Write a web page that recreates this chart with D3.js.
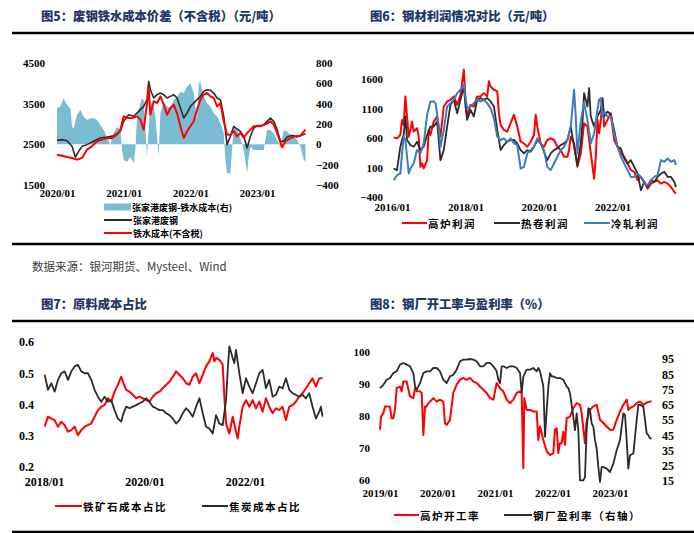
<!DOCTYPE html>
<html><head><meta charset="utf-8">
<script src="https://cdn.jsdelivr.net/npm/d3@7"></script>
<style>
body{margin:0;background:#fff;}
svg{display:block;}
.num text{font-family:"Liberation Serif","Times New Roman",serif;font-weight:bold;font-size:11px;fill:#000;}
.cjk{font-family:"Noto Sans CJK SC",sans-serif;font-weight:bold;fill:#000;}
.title{font-family:"Noto Sans CJK SC",sans-serif;font-weight:900;font-size:12.3px;fill:#1f3864;}
</style></head><body>
<svg id="c" width="694" height="533"></svg>
<script>
// ---------------- DATA ----------------
const titles = ["图5：废钢铁水成本价差（不含税）（元/吨）","图6：钢材利润情况对比（元/吨）","图7：原料成本占比","图8：钢厂开工率与盈利率（%）"];
const sourceText = "数据来源：银河期货、Mysteel、Wind";

// Fig 5
const p5XLabels = ["2020/01","2021/01","2022/01","2023/01"];
const p5LeftTicks = [1500,2500,3500,4500];
const p5RightTicks = [-400,-200,0,200,400,600,800];
const p5Names = ["张家港废钢-铁水成本(右)","张家港废钢","铁水成本(不含税)"];
const p5Scrap = [[2020.000,2598],[2020.075,2615],[2020.150,2590],[2020.225,2451],[2020.275,2188],[2020.325,2328],[2020.375,2451],[2020.450,2492],[2020.550,2574],[2020.650,2656],[2020.750,2680],[2020.850,2713],[2020.950,2820],[2021.000,3066],[2021.075,3229],[2021.150,3188],[2021.225,3311],[2021.300,3434],[2021.350,3598],[2021.375,4049],[2021.400,3844],[2021.450,3639],[2021.500,3721],[2021.550,3762],[2021.600,3721],[2021.650,3639],[2021.700,3680],[2021.750,3721],[2021.800,3639],[2021.850,3393],[2021.900,3148],[2021.950,3270],[2022.000,3434],[2022.050,3516],[2022.100,3598],[2022.150,3680],[2022.200,3803],[2022.250,3844],[2022.300,3828],[2022.350,3762],[2022.400,3639],[2022.450,3598],[2022.500,3188],[2022.550,2492],[2022.600,2697],[2022.650,2943],[2022.700,2877],[2022.750,2820],[2022.800,2697],[2022.850,2410],[2022.900,2697],[2022.950,2902],[2023.000,2959],[2023.050,2959],[2023.100,2984],[2023.150,3066],[2023.200,3148],[2023.250,3066],[2023.300,2861],[2023.350,2574],[2023.400,2574],[2023.450,2680],[2023.500,2713],[2023.550,2713],[2023.600,2680],[2023.650,2713],[2023.725,2762]];
const p5HotMetal = [[2020.000,2246],[2020.075,2221],[2020.150,2188],[2020.225,2164],[2020.300,2123],[2020.375,2164],[2020.450,2369],[2020.525,2451],[2020.600,2574],[2020.675,2615],[2020.750,2656],[2020.825,2656],[2020.900,2738],[2020.950,2861],[2021.000,3188],[2021.050,3148],[2021.125,3148],[2021.200,3188],[2021.250,3107],[2021.300,2861],[2021.350,3516],[2021.375,3885],[2021.400,3229],[2021.450,3557],[2021.500,3516],[2021.550,3680],[2021.600,3475],[2021.650,3229],[2021.700,3393],[2021.750,3475],[2021.800,3270],[2021.850,2943],[2021.900,2656],[2021.950,2820],[2022.000,2943],[2022.050,3066],[2022.100,3352],[2022.150,3598],[2022.200,3721],[2022.250,3762],[2022.300,3680],[2022.350,3639],[2022.400,3434],[2022.450,3516],[2022.500,3066],[2022.550,2738],[2022.600,2738],[2022.650,2820],[2022.700,2697],[2022.750,2779],[2022.800,2656],[2022.850,2779],[2022.900,2861],[2022.950,2943],[2023.050,2943],[2023.150,3008],[2023.200,3066],[2023.250,2984],[2023.300,2779],[2023.375,2426],[2023.425,2574],[2023.500,2656],[2023.575,2697],[2023.650,2713],[2023.725,2861]];
const p5Spread = [[2020.000,354],[2020.050,371],[2020.100,452],[2020.150,387],[2020.200,354],[2020.225,174],[2020.250,157],[2020.300,289],[2020.350,338],[2020.400,272],[2020.450,239],[2020.500,256],[2020.550,256],[2020.600,239],[2020.650,190],[2020.700,141],[2020.750,75],[2020.800,-7],[2020.850,108],[2020.900,174],[2020.950,141],[2020.975,-56],[2021.000,-154],[2021.050,-171],[2021.100,-121],[2021.150,-187],[2021.175,-56],[2021.200,272],[2021.250,403],[2021.275,452],[2021.300,436],[2021.350,-121],[2021.400,420],[2021.450,371],[2021.475,272],[2021.500,75],[2021.525,-121],[2021.550,305],[2021.600,420],[2021.650,371],[2021.700,354],[2021.750,436],[2021.800,469],[2021.850,518],[2021.900,502],[2021.950,567],[2022.000,600],[2022.050,502],[2022.100,239],[2022.125,600],[2022.150,616],[2022.200,469],[2022.250,403],[2022.300,371],[2022.350,305],[2022.400,272],[2022.450,207],[2022.500,108],[2022.525,-154],[2022.550,-285],[2022.600,-285],[2022.625,-56],[2022.650,174],[2022.700,141],[2022.750,59],[2022.800,-56],[2022.850,-285],[2022.875,-121],[2022.900,-23],[2022.950,-56],[2023.000,-56],[2023.050,-56],[2023.100,-56],[2023.150,141],[2023.200,141],[2023.250,108],[2023.300,43],[2023.350,-23],[2023.400,141],[2023.450,125],[2023.500,92],[2023.550,75],[2023.600,43],[2023.650,-23],[2023.700,-154],[2023.725,-171]];

// Fig 6
const p6XLabels = ["2016/01","2018/01","2020/01","2022/01"];
const p6Ticks = [-400,100,600,1100,1600];
const p6Names = ["高炉利润","热卷利润","冷轧利润"];
const p6BF = [[2016.045,611],[2016.136,594],[2016.227,651],[2016.273,907],[2016.318,822],[2016.364,1305],[2016.409,964],[2016.455,623],[2016.500,736],[2016.545,878],[2016.591,708],[2016.682,765],[2016.727,623],[2016.773,111],[2016.818,168],[2016.864,83],[2016.955,225],[2017.000,736],[2017.045,651],[2017.136,878],[2017.227,964],[2017.318,623],[2017.409,1134],[2017.500,1219],[2017.591,1248],[2017.682,1305],[2017.773,1162],[2017.864,1333],[2017.955,1759],[2018.000,1248],[2018.045,964],[2018.136,1162],[2018.227,1134],[2018.318,1305],[2018.409,1305],[2018.500,1361],[2018.591,1305],[2018.636,1560],[2018.682,1475],[2018.773,1418],[2018.864,1390],[2018.909,1020],[2018.955,822],[2019.045,736],[2019.136,708],[2019.227,850],[2019.318,992],[2019.409,793],[2019.500,537],[2019.591,509],[2019.682,452],[2019.773,537],[2019.864,651],[2019.909,992],[2019.955,793],[2020.045,509],[2020.136,452],[2020.227,566],[2020.318,594],[2020.409,566],[2020.500,452],[2020.591,395],[2020.682,282],[2020.773,282],[2020.818,395],[2020.864,623],[2020.955,509],[2021.045,111],[2021.136,339],[2021.227,850],[2021.318,793],[2021.409,339],[2021.500,-88],[2021.545,282],[2021.591,907],[2021.636,680],[2021.682,907],[2021.727,1248],[2021.773,793],[2021.864,907],[2021.955,1020],[2022.045,566],[2022.136,452],[2022.227,339],[2022.318,282],[2022.409,168],[2022.500,55],[2022.591,26],[2022.682,-116],[2022.773,-59],[2022.864,-144],[2022.955,-258],[2023.045,-173],[2023.136,-144],[2023.227,-116],[2023.318,-173],[2023.409,-144],[2023.500,-173],[2023.591,-230],[2023.682,-315],[2023.727,-343]];
const p6HR = [[2016.045,83],[2016.136,55],[2016.227,452],[2016.273,566],[2016.318,651],[2016.364,964],[2016.409,566],[2016.500,481],[2016.591,452],[2016.682,537],[2016.773,395],[2016.864,452],[2016.955,651],[2017.045,793],[2017.136,793],[2017.227,878],[2017.318,225],[2017.409,395],[2017.500,793],[2017.591,1162],[2017.682,1248],[2017.773,1020],[2017.864,1248],[2017.955,1475],[2018.000,1134],[2018.045,907],[2018.136,1077],[2018.227,964],[2018.318,1248],[2018.409,1276],[2018.500,1248],[2018.591,1276],[2018.682,1219],[2018.773,1134],[2018.864,736],[2018.955,395],[2019.045,481],[2019.136,537],[2019.227,566],[2019.318,566],[2019.409,509],[2019.500,395],[2019.591,339],[2019.682,395],[2019.773,367],[2019.864,452],[2019.955,566],[2020.045,509],[2020.136,367],[2020.227,225],[2020.318,339],[2020.409,395],[2020.500,424],[2020.591,481],[2020.682,509],[2020.773,566],[2020.864,793],[2020.955,452],[2021.045,140],[2021.136,509],[2021.182,850],[2021.227,1361],[2021.273,1248],[2021.318,1134],[2021.364,1447],[2021.409,964],[2021.500,793],[2021.591,964],[2021.682,1077],[2021.727,1276],[2021.773,964],[2021.864,1049],[2021.955,992],[2022.045,736],[2022.136,452],[2022.227,424],[2022.318,253],[2022.409,168],[2022.500,225],[2022.591,111],[2022.682,-2],[2022.773,-286],[2022.864,-144],[2022.955,-230],[2023.045,-116],[2023.136,-144],[2023.227,-59],[2023.318,-2],[2023.409,26],[2023.500,-59],[2023.591,-59],[2023.682,-144],[2023.727,-230]];
const p6CR = [[2016.045,-116],[2016.136,-31],[2016.227,-2],[2016.273,339],[2016.318,623],[2016.364,566],[2016.409,282],[2016.455,-2],[2016.500,83],[2016.591,168],[2016.682,395],[2016.773,339],[2016.864,509],[2016.955,992],[2017.045,1219],[2017.136,1219],[2017.182,1191],[2017.227,1020],[2017.318,452],[2017.409,736],[2017.500,1134],[2017.591,1191],[2017.682,1248],[2017.773,1361],[2017.864,1418],[2017.955,1503],[2018.000,1276],[2018.045,1106],[2018.136,1134],[2018.227,1191],[2018.318,1248],[2018.409,1219],[2018.500,1248],[2018.591,1191],[2018.682,1106],[2018.773,935],[2018.864,623],[2018.955,566],[2019.045,594],[2019.136,537],[2019.227,594],[2019.318,509],[2019.409,481],[2019.500,83],[2019.591,111],[2019.682,339],[2019.773,395],[2019.864,452],[2019.955,594],[2020.045,509],[2020.136,395],[2020.227,111],[2020.318,55],[2020.409,168],[2020.500,282],[2020.591,395],[2020.682,452],[2020.773,566],[2020.864,793],[2020.955,1418],[2021.000,964],[2021.045,339],[2021.136,878],[2021.227,1191],[2021.318,907],[2021.409,509],[2021.500,680],[2021.591,1077],[2021.636,1248],[2021.682,1276],[2021.727,964],[2021.773,1049],[2021.864,964],[2021.955,964],[2022.045,680],[2022.136,452],[2022.227,282],[2022.318,168],[2022.409,55],[2022.500,-59],[2022.591,-59],[2022.682,-2],[2022.773,-59],[2022.864,-173],[2022.955,-201],[2023.045,-116],[2023.136,-59],[2023.227,-31],[2023.318,225],[2023.409,197],[2023.500,253],[2023.591,197],[2023.682,225],[2023.727,140]];

// Fig 7
const p7XLabels = ["2018/01","2020/01","2022/01"];
const p7Ticks = [0.2,0.3,0.4,0.5,0.6];
const p7Names = ["铁矿石成本占比","焦炭成本占比"];
const p7Ore = [[2018.013,0.329],[2018.079,0.361],[2018.146,0.355],[2018.212,0.350],[2018.278,0.329],[2018.344,0.345],[2018.411,0.334],[2018.477,0.313],[2018.543,0.318],[2018.609,0.329],[2018.675,0.302],[2018.742,0.318],[2018.808,0.329],[2018.874,0.334],[2018.940,0.339],[2019.007,0.361],[2019.073,0.382],[2019.139,0.393],[2019.205,0.398],[2019.272,0.420],[2019.338,0.409],[2019.404,0.441],[2019.470,0.463],[2019.536,0.489],[2019.570,0.473],[2019.636,0.447],[2019.702,0.441],[2019.768,0.431],[2019.834,0.420],[2019.901,0.425],[2019.967,0.420],[2020.033,0.414],[2020.099,0.409],[2020.166,0.425],[2020.232,0.436],[2020.298,0.441],[2020.364,0.452],[2020.430,0.463],[2020.497,0.473],[2020.563,0.489],[2020.629,0.506],[2020.695,0.495],[2020.762,0.484],[2020.828,0.468],[2020.894,0.463],[2020.960,0.489],[2021.026,0.500],[2021.093,0.468],[2021.159,0.495],[2021.225,0.522],[2021.291,0.538],[2021.358,0.565],[2021.391,0.538],[2021.424,0.549],[2021.490,0.543],[2021.556,0.527],[2021.589,0.425],[2021.623,0.339],[2021.689,0.307],[2021.755,0.361],[2021.821,0.313],[2021.854,0.291],[2021.887,0.329],[2021.954,0.393],[2022.020,0.414],[2022.086,0.393],[2022.152,0.414],[2022.219,0.388],[2022.285,0.409],[2022.351,0.377],[2022.417,0.420],[2022.483,0.393],[2022.550,0.372],[2022.616,0.388],[2022.682,0.382],[2022.748,0.393],[2022.815,0.350],[2022.881,0.393],[2022.947,0.398],[2023.013,0.409],[2023.079,0.425],[2023.146,0.436],[2023.212,0.452],[2023.278,0.468],[2023.344,0.484],[2023.411,0.457],[2023.477,0.484],[2023.543,0.484]];
const p7Coke = [[2018.013,0.495],[2018.079,0.447],[2018.146,0.468],[2018.212,0.441],[2018.278,0.479],[2018.344,0.500],[2018.411,0.506],[2018.477,0.479],[2018.543,0.506],[2018.609,0.522],[2018.675,0.527],[2018.742,0.506],[2018.808,0.500],[2018.874,0.500],[2018.940,0.479],[2019.007,0.447],[2019.073,0.425],[2019.139,0.409],[2019.205,0.425],[2019.272,0.409],[2019.338,0.414],[2019.404,0.382],[2019.470,0.355],[2019.536,0.345],[2019.570,0.366],[2019.636,0.393],[2019.702,0.388],[2019.768,0.393],[2019.834,0.398],[2019.901,0.404],[2019.967,0.409],[2020.033,0.420],[2020.099,0.409],[2020.166,0.393],[2020.232,0.388],[2020.298,0.382],[2020.364,0.382],[2020.430,0.372],[2020.497,0.366],[2020.563,0.355],[2020.629,0.339],[2020.695,0.350],[2020.762,0.372],[2020.828,0.388],[2020.894,0.377],[2020.960,0.361],[2021.026,0.393],[2021.093,0.420],[2021.159,0.372],[2021.225,0.329],[2021.291,0.323],[2021.358,0.307],[2021.424,0.366],[2021.490,0.339],[2021.556,0.334],[2021.623,0.414],[2021.656,0.511],[2021.689,0.586],[2021.755,0.549],[2021.788,0.532],[2021.821,0.575],[2021.887,0.500],[2021.954,0.436],[2022.020,0.484],[2022.086,0.457],[2022.152,0.436],[2022.219,0.468],[2022.285,0.500],[2022.351,0.511],[2022.417,0.452],[2022.483,0.479],[2022.550,0.425],[2022.616,0.431],[2022.682,0.457],[2022.748,0.452],[2022.815,0.484],[2022.881,0.447],[2022.947,0.436],[2023.013,0.431],[2023.079,0.425],[2023.146,0.431],[2023.212,0.420],[2023.278,0.436],[2023.344,0.393],[2023.411,0.355],[2023.477,0.377],[2023.510,0.393],[2023.543,0.361]];

// Fig 8
const p8XLabels = ["2019/01","2020/01","2021/01","2022/01","2023/01"];
const p8LeftTicks = [60,70,80,90,100];
const p8RightTicks = [15,25,35,45,55,65,75,85,95];
const p8Names = ["高炉开工率","钢厂盈利率（右轴）"];
const p8Util = [[2019.000,75.7],[2019.017,79.8],[2019.058,80.9],[2019.087,83.0],[2019.145,83.0],[2019.174,82.8],[2019.203,79.3],[2019.232,79.3],[2019.261,81.9],[2019.290,88.7],[2019.348,89.2],[2019.377,87.7],[2019.406,90.8],[2019.464,90.8],[2019.522,86.1],[2019.580,85.6],[2019.609,88.7],[2019.638,87.7],[2019.696,87.7],[2019.725,87.2],[2019.754,74.1],[2019.783,83.0],[2019.812,83.0],[2019.841,84.0],[2019.870,84.5],[2019.928,85.6],[2019.986,84.5],[2020.043,85.1],[2020.101,84.5],[2020.130,77.8],[2020.159,77.2],[2020.217,78.8],[2020.275,87.2],[2020.333,89.8],[2020.391,91.3],[2020.449,91.9],[2020.507,91.3],[2020.565,91.9],[2020.623,90.8],[2020.681,90.3],[2020.739,89.2],[2020.797,88.2],[2020.855,87.2],[2020.913,85.6],[2020.971,85.1],[2021.029,90.3],[2021.087,88.7],[2021.145,87.7],[2021.203,85.1],[2021.261,84.0],[2021.319,85.1],[2021.377,87.2],[2021.435,87.7],[2021.464,87.2],[2021.493,63.7],[2021.510,85.6],[2021.551,81.9],[2021.609,81.9],[2021.667,81.4],[2021.725,81.4],[2021.754,72.5],[2021.783,76.7],[2021.841,72.5],[2021.899,68.9],[2021.957,67.8],[2022.014,68.4],[2022.043,75.7],[2022.072,76.2],[2022.101,68.4],[2022.130,71.5],[2022.159,71.5],[2022.188,75.1],[2022.217,71.0],[2022.246,79.3],[2022.304,79.8],[2022.362,82.5],[2022.420,84.0],[2022.478,83.5],[2022.507,80.9],[2022.565,71.5],[2022.594,78.3],[2022.652,81.9],[2022.710,83.0],[2022.768,83.5],[2022.826,78.8],[2022.884,77.8],[2022.942,76.7],[2023.000,75.7],[2023.058,75.7],[2023.116,78.8],[2023.174,81.4],[2023.232,83.5],[2023.290,85.1],[2023.319,81.9],[2023.348,82.5],[2023.406,83.0],[2023.464,84.0],[2023.522,84.5],[2023.580,83.5],[2023.638,84.2],[2023.696,84.5],[2023.725,84.5]];
const p8Profit = [[2019.000,75.9],[2019.058,78.1],[2019.116,81.4],[2019.174,82.5],[2019.232,85.8],[2019.290,86.9],[2019.348,91.3],[2019.406,92.4],[2019.464,91.3],[2019.522,90.2],[2019.580,85.8],[2019.609,77.0],[2019.638,74.8],[2019.696,79.2],[2019.754,85.8],[2019.812,86.9],[2019.870,86.9],[2019.928,89.1],[2019.986,89.1],[2020.043,86.9],[2020.101,81.4],[2020.159,79.2],[2020.217,83.6],[2020.275,84.7],[2020.333,88.0],[2020.391,93.5],[2020.449,94.6],[2020.507,94.6],[2020.565,95.0],[2020.623,94.6],[2020.681,93.5],[2020.739,90.2],[2020.797,90.2],[2020.855,92.4],[2020.913,92.4],[2020.971,90.2],[2021.029,86.9],[2021.058,81.4],[2021.087,79.2],[2021.116,90.2],[2021.145,90.2],[2021.203,89.1],[2021.261,90.2],[2021.319,90.2],[2021.377,89.1],[2021.435,85.8],[2021.464,72.6],[2021.493,83.6],[2021.551,88.0],[2021.609,88.0],[2021.667,89.1],[2021.725,86.9],[2021.754,89.1],[2021.783,86.9],[2021.841,77.0],[2021.870,44.0],[2021.899,61.6],[2021.928,77.0],[2021.957,85.8],[2021.986,83.6],[2022.014,83.6],[2022.072,82.5],[2022.130,82.5],[2022.188,81.4],[2022.246,77.0],[2022.275,75.9],[2022.304,72.6],[2022.362,57.2],[2022.391,48.4],[2022.420,59.4],[2022.449,48.4],[2022.478,15.4],[2022.536,15.4],[2022.565,17.6],[2022.594,48.4],[2022.623,62.7],[2022.652,61.6],[2022.681,52.8],[2022.710,50.6],[2022.739,41.8],[2022.768,36.3],[2022.797,24.2],[2022.826,14.3],[2022.855,24.2],[2022.884,24.2],[2022.942,23.1],[2023.000,20.9],[2023.058,26.4],[2023.116,35.2],[2023.145,38.5],[2023.174,41.8],[2023.232,59.4],[2023.261,58.3],[2023.290,41.8],[2023.319,23.1],[2023.348,31.9],[2023.406,33.0],[2023.435,44.0],[2023.464,55.0],[2023.493,64.9],[2023.522,64.9],[2023.580,63.8],[2023.638,46.2],[2023.667,45.1],[2023.696,42.9],[2023.725,42.9]];

// ---------------- DRAWING ----------------
const svg = d3.select("#c");
const RED = "#ff0000", BLACK = "#2b2b2b", BLUE = "#3b7dc0", BAR = "#7cbcd2";
const yearOf = s => +s.slice(0,4);

// horizontal rules
[33,244,321,532].forEach(y => svg.append("line").attr("x1",12).attr("x2",694)
  .attr("y1",y).attr("y2",y).attr("stroke","#000").attr("stroke-width",2.5));

// titles
const titlePos = [[41,16],[370,16],[41,304],[370,304]];
titles.forEach((t,i) => svg.append("text").attr("class","title")
  .attr("x",titlePos[i][0]).attr("y",titlePos[i][1]).attr("dominant-baseline","central").text(t));

svg.append("text").attr("x",32).attr("y",266).attr("dominant-baseline","central")
  .style("font-family","'Noto Sans CJK SC',sans-serif").style("font-size","11.5px").style("fill","#404040")
  .text(sourceText);

function yAxis(scale, ticks, x, side, fmt, fs){
  const ax = (side==="left"? d3.axisLeft(scale) : d3.axisRight(scale))
    .tickValues(ticks).tickSize(0).tickPadding(0).tickFormat(fmt || d3.format("d"));
  const g = svg.append("g").attr("class","num").attr("transform",`translate(${x},0)`).call(ax);
  g.select(".domain").remove();
  g.selectAll("text").style("font-size",(fs||11)+"px");
  return g;
}
function xAxis(scale, labels, y, fs){
  const ax = d3.axisBottom(scale).tickValues(labels.map(yearOf))
    .tickFormat((d,i)=>labels[i]).tickSize(0).tickPadding(0);
  const g = svg.append("g").attr("class","num").attr("transform",`translate(0,${y})`).call(ax);
  g.select(".domain").remove();
  g.selectAll("text").attr("y",0).attr("dy","0.35em").style("font-size",(fs||11)+"px");
}
function drawLine(data, x, y, color, w){
  svg.append("path").datum(data).attr("fill","none").attr("stroke",color)
    .attr("stroke-width",w).attr("stroke-linejoin","round")
    .attr("d", d3.line().x(d=>x(d[0])).y(d=>y(d[1])));
}
function legendLine(x1,x2,y,color,label,fs,ls){
  svg.append("line").attr("x1",x1).attr("x2",x2).attr("y1",y).attr("y2",y)
    .attr("stroke",color).attr("stroke-width",2);
  svg.append("text").attr("class","cjk").attr("x",x2+1).attr("y",y).attr("dominant-baseline","central")
    .style("font-size",fs+"px").style("letter-spacing",(ls||0)+"px").text(label);
}

// ---- Fig 5 ----
{
  const x = d3.scaleLinear().domain([2020,2024]).range([57,57+4*66.7]);
  const yL = d3.scaleLinear().domain([1500,4500]).range([185,63]);
  const yR = d3.scaleLinear().domain([-400,800]).range([185,63]);
  svg.append("path").datum(p5Spread).attr("fill",BAR)
    .attr("d", d3.area().x(d=>x(d[0])).y0(yR(0)).y1(d=>yR(d[1])));
  drawLine(p5Scrap, x, yL, BLACK, 1.6);
  drawLine(p5HotMetal, x, yL, RED, 2);
  yAxis(yL, p5LeftTicks, 45, "left");
  yAxis(yR, p5RightTicks, 316, "right");
  xAxis(x, p5XLabels, 193.5);
  svg.append("rect").attr("x",104).attr("y",203.5).attr("width",27).attr("height",7).attr("fill",BAR);
  svg.append("text").attr("class","cjk").attr("x",132).attr("y",207).attr("dominant-baseline","central")
    .style("font-size","9px").text(p5Names[0]);
  legendLine(104,132,220,BLACK,p5Names[1],9,0);
  legendLine(104,132,233,RED,p5Names[2],9,0);
}

// ---- Fig 6 ----
{
  const x = d3.scaleLinear().domain([2016,2024]).range([392,392+8*36.75]);
  const y = d3.scaleLinear().domain([-400,1600]).range([197,79]);
  drawLine(p6BF, x, y, RED, 2);
  drawLine(p6HR, x, y, BLACK, 1.8);
  drawLine(p6CR, x, y, BLUE, 2);
  yAxis(y, p6Ticks, 383, "left");
  xAxis(x, p6XLabels, 207);
  legendLine(402,427,223,RED,p6Names[0],10.5,1.5);
  legendLine(494,520,223,BLACK,p6Names[1],10.5,1.5);
  legendLine(584,610,223,BLUE,p6Names[2],10.5,1.5);
}

// ---- Fig 7 ----
{
  const x = d3.scaleLinear().domain([2018,2024]).range([44,44+6*50.25]);
  const y = d3.scaleLinear().domain([0.2,0.6]).range([467,342]);
  drawLine(p7Ore, x, y, RED, 2);
  drawLine(p7Coke, x, y, BLACK, 1.8);
  yAxis(y, p7Ticks, 34, "left", d3.format(".1f"), 12);
  xAxis(x, p7XLabels, 482, 12);
  legendLine(55,82,506,RED,p7Names[0],10.5,1.5);
  legendLine(202,228,506,BLACK,p7Names[1],10.5,1.5);
}

// ---- Fig 8 ----
{
  const x = d3.scaleLinear().domain([2019,2024]).range([380,380+5*57.5]);
  const yL = d3.scaleLinear().domain([60,100]).range([480,352]);
  const yR = d3.scaleLinear().domain([15,95]).range([481,359]);
  drawLine(p8Util, x, yL, RED, 2);
  drawLine(p8Profit, x, yR, BLACK, 1.8);
  yAxis(yL, p8LeftTicks, 370, "left", null, 11);
  yAxis(yR, p8RightTicks, 662, "right", null, 12);
  xAxis(x, p8XLabels, 493);
  legendLine(394,419,515,RED,p8Names[0],10.5,1.5);
  legendLine(504,532,515,BLACK,p8Names[1],10.5,1.5);
}
</script>
</body></html>
